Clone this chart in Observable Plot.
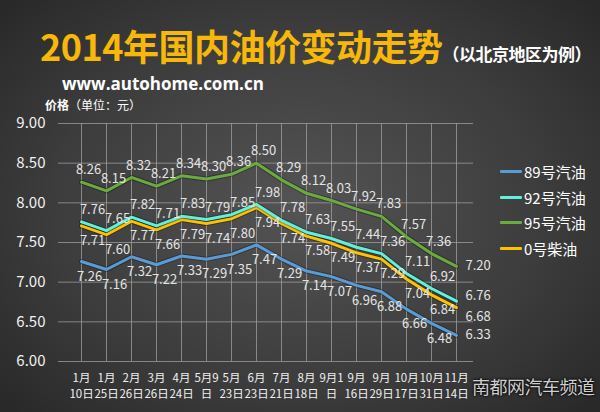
<!DOCTYPE html>
<html>
<head>
<meta charset="utf-8">
<script src="https://cdn.jsdelivr.net/npm/d3@7"></script>
<script src="https://cdn.jsdelivr.net/npm/@observablehq/plot@0.6"></script>
<style>
  html, body { margin: 0; padding: 0; background: #222; }
  #wrap {
    position: relative; width: 600px; height: 412px; overflow: hidden;
    background: radial-gradient(ellipse 75% 80% at 50% 50%, #545454 0%, #3c3c3c 55%, #232323 100%);
    font-family: "Noto Sans CJK SC", "Noto Sans", sans-serif;
  }
  #head { position: relative; width: 600px; height: 100px; }
  #title { position: absolute; left: 40px; top: 27px; color: #f7b80a; font-weight: 700;
    font-size: 36px; letter-spacing: -0.5px; white-space: nowrap; line-height: 1; }
  #title span { color: #fff; font-size: 17px; letter-spacing: -0.5px; }
  #site { position: absolute; left: 62px; top: 75px; color: #fff; font-family: "Open Sans", sans-serif;
    font-weight: 700; font-size: 17px; line-height: 1; }
  #unit { position: absolute; left: 45px; top: 99px; color: #fff; font-size: 12px; line-height: 1; }
  #unit b { font-weight: 700; }
  #legend { position: absolute; left: 500px; top: 159px; color: #fff; font-size: 15px; }
  #legend div { display: flex; align-items: center; height: 25.5px; }
  #legend i { display: inline-block; width: 22px; height: 3px; margin-right: 2px; border-radius: 1px; }
  #wm { position: absolute; left: 472px; top: 376px; font-size: 18px; color: #cfcfcf;
    text-shadow: 0 0 2px #000, 0 0 3px #000; letter-spacing: -0.5px; line-height: 1.2; }
  svg { display: block; }
</style>
</head>
<body>
<div id="wrap">
  <div id="head">
    <div id="title">2014年国内油价变动走势<span>（以北京地区为例）</span></div>
    <div id="site">www.autohome.com.cn</div>
    <div id="unit"><b>价格</b>（单位：元）</div>
  </div>
  <div id="chart"></div>
  <div id="legend"></div>
  <div id="wm">南都网汽车频道</div>
</div>
<script>
const dates = ["1月\n10日","1月\n25日","2月\n26日","3月\n26日","4月\n24日","5月9\n日","5月\n23日","6月\n23日",
  "7月\n21日","8月\n18日","9月1\n日","9月\n16日","9月\n29日","10月\n17日","10月\n31日","11月\n14日"];
const seriesNames = ["89号汽油", "92号汽油", "95号汽油", "0号柴油"];
const p89 = [7.26,7.16,7.32,7.22,7.33,7.29,7.35,7.47,7.29,7.14,7.07,6.96,6.88,6.66,6.48,6.33];
const p92 = [7.76,7.65,7.82,7.71,7.83,7.79,7.85,7.98,7.78,7.63,7.55,7.44,7.36,7.11,6.92,6.76];
const p95 = [8.26,8.15,8.32,8.21,8.34,8.30,8.36,8.50,8.29,8.12,8.03,7.92,7.83,7.57,7.36,7.20];
const p0  = [7.71,7.60,7.77,7.66,7.79,7.74,7.80,7.94,7.74,7.58,7.49,7.37,7.29,7.04,6.84,6.68];
const yTicks = [6.0, 6.5, 7.0, 7.5, 8.0, 8.5, 9.0];

const colors = ["#5b9bd5", "#5ff0de", "#6aaa3e", "#ffc000"];
const valueSets = [p89, p92, p95, p0];
const labelOffsets = [[8, 15], [11, -12], [7, -12], [11, 15]];
const lastLabelDy = [0, -5, 0, 9];

const series = seriesNames.map((name, k) => ({
  name, color: colors[k], off: labelOffsets[k], lastDy: lastLabelDy[k],
  rows: valueSets[k].map((v, i) => ({date: dates[i], value: v, i}))
}));

const marks = [
  Plot.ruleY(yTicks, {stroke: "#a0a0a0", strokeWidth: 1, strokeOpacity: 0.75, insetLeft: -6}),
  Plot.ruleX(dates, {stroke: "#a0a0a0", strokeWidth: 1, strokeOpacity: 0.75}),
];
const drawOrder = [0, 3, 1, 2];
for (const k of drawOrder) {
  const s = series[k];
  marks.push(Plot.line(s.rows, {x: "date", y: "value", stroke: "#000", strokeOpacity: 0.3, strokeWidth: 5}));
  marks.push(Plot.line(s.rows, {x: "date", y: "value", stroke: s.color, strokeWidth: 3}));
}
for (const s of series) {
  const last = s.rows.length - 1;
  marks.push(Plot.text(s.rows.filter(d => d.i < last), {
    x: "date", y: "value", text: d => d.value.toFixed(2),
    dx: s.off[0], dy: s.off[1], fill: "#e4e4e4", fontSize: 13
  }));
  marks.push(Plot.text(s.rows.filter(d => d.i === last), {
    x: "date", y: "value", text: d => d.value.toFixed(2),
    dx: 9, dy: s.lastDy, textAnchor: "start", fill: "#e4e4e4", fontSize: 13
  }));
}
marks.push(Plot.axisY(yTicks, {tickSize: 0, tickPadding: 19, tickFormat: d => d.toFixed(2),
  fontSize: 15, fill: "#f2f2f2", anchor: "left", label: null}));
marks.push(Plot.axisX({tickSize: 0, tickPadding: 9, fontSize: 11.5, fill: "#f0f0f0",
  lineHeight: 1.4, label: null}));

const chart = Plot.plot({
  width: 600, height: 312,
  marginTop: 23, marginBottom: 51, marginLeft: 64, marginRight: 127,
  style: {background: "transparent", fontFamily: "'Noto Sans CJK SC', 'Noto Sans', sans-serif", color: "#eee"},
  x: {type: "point", domain: dates, padding: 0.5},
  y: {domain: [6, 9]},
  marks
});
document.getElementById("chart").appendChild(chart);

const legend = document.getElementById("legend");
for (const s of series) {
  const row = document.createElement("div");
  row.innerHTML = `<i style="background:${s.color}"></i>${s.name}`;
  legend.appendChild(row);
}
</script>
</body>
</html>
